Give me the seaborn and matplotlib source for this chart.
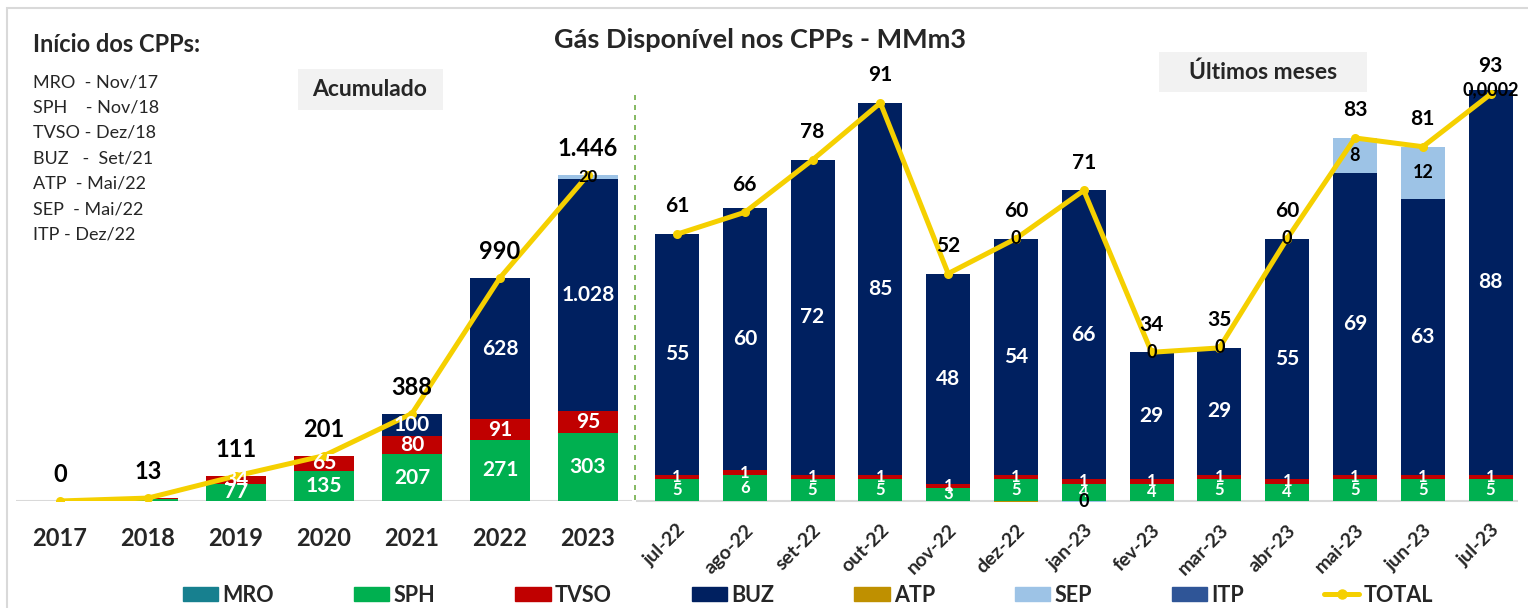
import numpy as np
import seaborn as sns
import matplotlib.pyplot as plt
from matplotlib.patches import Rectangle, Patch
from matplotlib.lines import Line2D

sns.set_theme(style='white')
plt.rcParams['font.family'] = ['Lato', 'DejaVu Sans']

W, H = 1528, 608

series = ['MRO', 'SPH', 'TVSO', 'BUZ', 'ATP', 'SEP', 'ITP']
cores = {'MRO': '#17808F', 'SPH': '#00B050', 'TVSO': '#C00000', 'BUZ': '#002060',
         'ATP': '#BF9000', 'SEP': '#9DC3E6', 'ITP': '#2F5597'}
cor_total = '#F5D000'

# acumulado por ano
anos = ['2017', '2018', '2019', '2020', '2021', '2022', '2023']
ano_mro = [0, 0, 0, 0, 0, 0, 0]
ano_sph = [0, 9, 77, 135, 207, 271, 303]
ano_tvso = [0, 4, 34, 65, 80, 91, 95]
ano_buz = [0, 0, 0, 0, 100, 628, 1028]
ano_atp = [0, 0, 0, 0, 0, 0, 0]
ano_sep = [0, 0, 0, 0, 0, 0, 20]
ano_itp = [0, 0, 0, 0, 0, 0, 0]
ano_total = [0, 13, 111, 201, 388, 990, 1446]

# ultimos meses
meses = ['jul-22', 'ago-22', 'set-22', 'out-22', 'nov-22', 'dez-22', 'jan-23',
         'fev-23', 'mar-23', 'abr-23', 'mai-23', 'jun-23', 'jul-23']
mes_mro = [0] * 13
mes_sph = [5, 6, 5, 5, 3, 5, 4, 4, 5, 4, 5, 5, 5]
mes_tvso = [1, 1, 1, 1, 1, 1, 1, 1, 1, 1, 1, 1, 1]
mes_buz = [55, 60, 72, 85, 48, 54, 66, 29, 29, 55, 69, 63, 88]
mes_atp = [0, 0, 0, 0, 0, -0.3, 0, 0, 0, 0, 0, 0, 0]
mes_sep = [0, 0, 0, 0, 0, 0, -0.3, 0, 0, 0, 8, 12, 0.0002]
mes_itp = [0] * 13
mes_total = [61, 66, 78, 91, 52, 60, 71, 34, 35, 60, 83, 81, 93]
mes_sep_rotulo = ['', '', '', '', '', '0', '0', '0', '0', '0', '8', '12', '0,0002']

inicio = ['MRO  - Nov/17', 'SPH    - Nov/18', 'TVSO - Dez/18', 'BUZ   -  Set/21',
          'ATP  - Mai/22', 'SEP  - Mai/22', 'ITP - Dez/22']


def br(v):
    return f"{v:,.0f}".replace(',', '.')


def px(x, y):
    return x / W, 1 - y / H


def empilha(ax, dados, largura, rotulos):
    n = len(dados['SPH'])
    x = np.arange(n)
    pos = np.zeros(n)
    neg = np.zeros(n)
    for s in series:
        v = np.array(dados[s], float)
        base = np.where(v >= 0, pos, neg)
        ax.bar(x, v, bottom=base, width=largura, color=cores[s], lw=0, zorder=2)
        if s in rotulos:
            textos, cor, tam = rotulos[s]
            for i in range(n):
                if textos[i]:
                    ax.text(x[i], base[i] + v[i] / 2, textos[i], ha='center', va='center',
                            color=cor, fontsize=tam, fontweight='bold', zorder=5)
        pos += np.where(v >= 0, v, 0)
        neg += np.where(v < 0, v, 0)


def linha_total(ax, total, tam, dy):
    x = np.arange(len(total))
    sns.lineplot(x=x, y=total, ax=ax, color=cor_total, lw=3.6, marker='o', ms=6.5,
                 markeredgewidth=0, zorder=4)
    for i, t in enumerate(total):
        ax.annotate(br(t), (x[i], t), xytext=(0, dy), textcoords='offset points',
                    ha='center', va='center', fontsize=tam, fontweight='bold', color='black',
                    zorder=6)


fig = plt.figure(figsize=(W / 100, H / 100), dpi=100)

# painel acumulado
esc_a = 0.2255
ax1 = fig.add_axes([16 / W, (H - 501) / H, 616 / W, 1950 * esc_a / H])
dados_a = dict(zip(series, [ano_mro, ano_sph, ano_tvso, ano_buz, ano_atp, ano_sep, ano_itp]))
rot_a = {s: ([br(v) if v >= 30 else '' for v in dados_a[s]], 'white', 15) for s in ['SPH', 'TVSO', 'BUZ']}
rot_a['SEP'] = ([br(v) if v > 0 else '' for v in ano_sep], 'black', 12)
empilha(ax1, dados_a, 0.69, rot_a)
linha_total(ax1, ano_total, 17, 19)
ax1.set_xlim(-0.5, 6.5)
ax1.set_ylim(0, 1950)

# painel mensal
esc_m = 4.374
y0m = -1.5
ax2 = fig.add_axes([636.3 / W, (H - 501 + y0m * esc_m) / H, 881.4 / W, (100.5 - y0m) * esc_m / H])
dados_m = dict(zip(series, [mes_mro, mes_sph, mes_tvso, mes_buz, mes_atp, mes_sep, mes_itp]))
rot_m = {'SPH': ([br(v) for v in mes_sph], 'white', 12),
         'TVSO': ([br(v) for v in mes_tvso], 'white', 12),
         'BUZ': ([br(v) for v in mes_buz], 'white', 15),
         'SEP': (mes_sep_rotulo, 'black', 13)}
empilha(ax2, dados_m, 0.65, rot_m)
linha_total(ax2, mes_total, 15, 20)
ax2.set_xlim(-0.6, 12.4)
ax2.set_ylim(y0m, 100.5)

for ax in (ax1, ax2):
    ax.axhline(0, color='#D9D9D9', lw=1.5, zorder=1)
    ax.set_yticks([])
    ax.set_xlabel('')
    ax.set_ylabel('')
    ax.set_facecolor('none')
    sns.despine(ax=ax, left=True, bottom=True)
    ax.tick_params(axis='x', length=0)

ax1.set_xticks(range(len(anos)))
ax1.set_xticklabels(anos, fontsize=17, fontweight='bold')
ax1.tick_params(axis='x', pad=19)
ax2.set_xticks(range(len(meses)))
ax2.set_xticklabels(meses, rotation=45, ha='right', rotation_mode='anchor',
                    fontsize=14, fontweight='bold')
ax2.tick_params(axis='x', pad=10)

# moldura, separador e textos
fig.add_artist(Rectangle(px(7, 640), 1560 / W, 632 / H, transform=fig.transFigure,
                         fill=False, ec='#D9D9D9', lw=1.5))
fig.add_artist(Line2D([635 / W, 635 / W], [1 - 95 / H, 1 - 505 / H], transform=fig.transFigure,
                      color='#70AD47', lw=1.2, ls=(0, (3, 3))))
fig.add_artist(Rectangle(px(298, 110), 145 / W, 41 / H, transform=fig.transFigure,
                         fc='#F2F2F2', ec='none'))
fig.text(*px(370, 90), 'Acumulado', ha='center', va='center', fontsize=16.5, fontweight='bold')
fig.add_artist(Rectangle(px(1159, 92), 208 / W, 40 / H, transform=fig.transFigure,
                         fc='#F2F2F2', ec='none'))
fig.text(*px(1263, 72), 'Últimos meses', ha='center', va='center', fontsize=16.5, fontweight='bold')
fig.text(*px(760, 40), 'Gás Disponível nos CPPs - MMm3', ha='center', va='center',
         fontsize=19.5, fontweight='bold')
fig.text(*px(33, 44), 'Início dos CPPs:', ha='left', va='center', fontsize=17, fontweight='bold')
for i, t in enumerate(inicio):
    fig.text(*px(33, 82 + 25.5 * i), t, ha='left', va='center', fontsize=13)

handles = [Patch(color=cores[s], label=s) for s in series]
handles.append(Line2D([], [], color=cor_total, lw=3.6, marker='o', ms=6.5, label='TOTAL'))
fig.legend(handles=handles, loc='center', bbox_to_anchor=px(808, 595), ncol=8, frameon=False,
           prop={'size': 15.5, 'weight': 'bold'}, handlelength=1.65, handleheight=0.6,
           handletextpad=0.2, columnspacing=3.7)

fig.savefig('out.png', dpi=100)
